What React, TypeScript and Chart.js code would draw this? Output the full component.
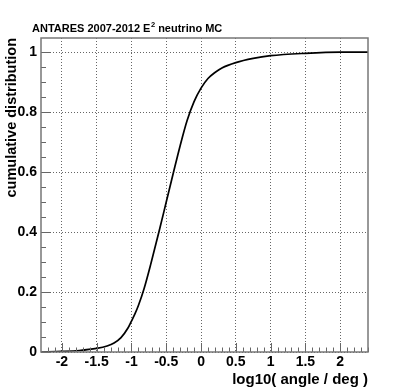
import React, { useEffect, useRef } from 'react';
import { Chart, registerables } from 'chart.js';

Chart.register(...registerables);

// log10(angle/deg) values and cumulative distribution
const logAngle = [-2.3, -2.0, -1.75, -1.5, -1.35, -1.25, -1.15, -1.05, -1.0, -0.95, -0.9, -0.82, -0.72, -0.6, -0.5, -0.4, -0.3, -0.2, -0.1, 0.0, 0.1, 0.2, 0.3, 0.5, 0.75, 1.0, 1.5, 2.0, 2.4];
const cumulative = [0.0, 0.002, 0.005, 0.012, 0.02, 0.03, 0.048, 0.08, 0.103, 0.127, 0.155, 0.21, 0.295, 0.405, 0.5, 0.595, 0.688, 0.772, 0.835, 0.88, 0.912, 0.932, 0.947, 0.965, 0.979, 0.988, 0.996, 1.0, 1.0];

const xTicks = [-2, -1.5, -1, -0.5, 0, 0.5, 1, 1.5, 2];
const yTicks = [0, 0.2, 0.4, 0.6, 0.8, 1];
const xRange = [-2.3, 2.4];
const yRange = [0, 1.047];
const xMinorStep = 0.1;
const yMinorStep = 0.05;

const titleMain = 'ANTARES 2007-2012 E';
const titleSup = '2';
const titleRest = ' neutrino MC';
const xTitle = 'log10( angle / deg )';
const yTitle = 'cumulative distribution';

const FONT = '"Liberation Sans", Arial, Helvetica, sans-serif';

const decoPlugin = {
  id: 'rootDeco',
  afterDraw(chart: any) {
    const ctx = chart.ctx;
    const a = chart.chartArea;
    const xs = chart.scales.x;
    const ys = chart.scales.y;
    ctx.save();
    // tick marks
    ctx.strokeStyle = '#666';
    ctx.lineWidth = 1;
    ctx.beginPath();
    const nx = Math.round((xRange[1] - xRange[0]) / xMinorStep);
    const x0 = Math.ceil(xRange[0] / xMinorStep) * xMinorStep;
    for (let i = 0; i <= nx; i++) {
      const v = Math.round((x0 + i * xMinorStep) * 10) / 10;
      if (v < xRange[0] || v > xRange[1]) continue;
      const major = xTicks.some((t) => Math.abs(t - v) < 1e-6);
      const px = Math.round(xs.getPixelForValue(v)) + 0.5;
      ctx.moveTo(px, a.bottom);
      ctx.lineTo(px, a.bottom - (major ? 9 : 4.5));
    }
    const ny = Math.round((yRange[1] - yRange[0]) / yMinorStep);
    for (let i = 0; i <= ny; i++) {
      const v = Math.round(i * yMinorStep * 100) / 100;
      if (v > yRange[1]) continue;
      const major = yTicks.some((t) => Math.abs(t - v) < 1e-6);
      const py = Math.round(ys.getPixelForValue(v)) + 0.5;
      ctx.moveTo(a.left, py);
      ctx.lineTo(a.left + (major ? 10 : 5), py);
    }
    ctx.stroke();
    // frame
    ctx.strokeStyle = '#777';
    ctx.lineWidth = 1.5;
    ctx.strokeRect(a.left, a.top, a.right - a.left, a.bottom - a.top);

    // title
    ctx.fillStyle = '#000';
    ctx.textBaseline = 'alphabetic';
    ctx.textAlign = 'left';
    ctx.font = `bold 11px ${FONT}`;
    let tx = 32;
    const ty = 32;
    ctx.fillText(titleMain, tx, ty);
    tx += ctx.measureText(titleMain).width;
    ctx.font = `bold 7.5px ${FONT}`;
    ctx.fillText(titleSup, tx + 0.5, ty - 5);
    tx += ctx.measureText(titleSup).width + 0.5;
    ctx.font = `bold 11px ${FONT}`;
    ctx.fillText(titleRest, tx, ty);

    // x title
    ctx.font = `bold 15px ${FONT}`;
    ctx.textAlign = 'right';
    ctx.fillText(xTitle, a.right, 384);

    // y title
    ctx.save();
    ctx.translate(16, a.top);
    ctx.rotate(-Math.PI / 2);
    ctx.textAlign = 'right';
    ctx.font = `bold 14.5px ${FONT}`;
    ctx.fillText(yTitle, 0, 0);
    ctx.restore();
    ctx.restore();
  },
};

export default function App() {
  const ref = useRef<HTMLCanvasElement>(null);
  useEffect(() => {
    document.body.style.margin = '0';
    const canvas = ref.current;
    if (!canvas) return;
    const points = logAngle.map((x, i) => ({ x, y: cumulative[i] }));
    const chart = new Chart(canvas, {
      type: 'line',
      data: {
        datasets: [
          {
            data: points,
            borderColor: '#000',
            borderWidth: 1.7,
            pointRadius: 0,
            fill: false,
            cubicInterpolationMode: 'monotone',
          },
        ],
      },
      options: {
        responsive: false,
        animation: false,
        devicePixelRatio: 1,
        layout: { padding: { top: 38, right: 41, left: 0, bottom: 0 } },
        plugins: { legend: { display: false }, tooltip: { enabled: false }, title: { display: false } },
        scales: {
          x: {
            type: 'linear',
            min: xRange[0],
            max: xRange[1],
            afterBuildTicks: (s: any) => {
              s.ticks = xTicks.map((v) => ({ value: v }));
            },
            afterFit: (s: any) => {
              s.height = 40;
            },
            ticks: {
              color: '#000',
              font: { family: FONT, size: 14, weight: 'bold' },
              padding: 2,
              maxRotation: 0,
              autoSkip: false,
              callback: (v: any) => String(v),
            },
            grid: { color: '#666', lineWidth: 1, drawTicks: false, tickLength: 0 },
            border: { display: false, dash: [1, 2] },
          },
          y: {
            type: 'linear',
            min: yRange[0],
            max: yRange[1],
            afterBuildTicks: (s: any) => {
              s.ticks = yTicks.map((v) => ({ value: v }));
            },
            afterFit: (s: any) => {
              s.width = 41;
            },
            ticks: {
              color: '#000',
              font: { family: FONT, size: 14, weight: 'bold' },
              padding: 4,
              autoSkip: false,
              callback: (v: any) => String(v),
            },
            grid: { color: '#666', lineWidth: 1, drawTicks: false, tickLength: 0 },
            border: { display: false, dash: [1, 2] },
          },
        },
      },
      plugins: [decoPlugin],
    });
    return () => chart.destroy();
  }, []);
  return (
    <div style={{ width: 409, height: 392, background: '#fff' }}>
      <canvas ref={ref} width={409} height={392} style={{ display: 'block' }} />
    </div>
  );
}
